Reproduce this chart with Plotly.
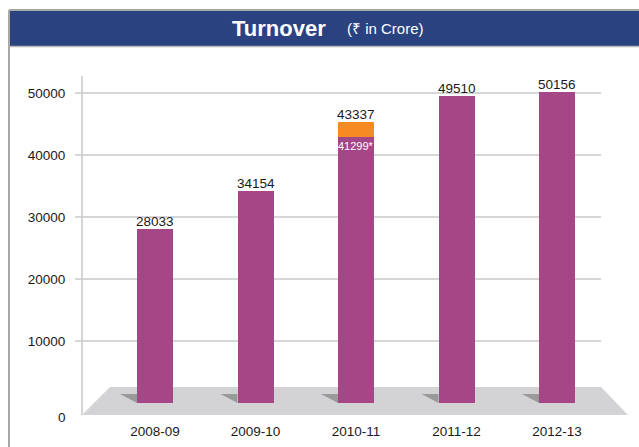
import plotly.graph_objects as go

# ---- data ----
categories = ["2008-09", "2009-10", "2010-11", "2011-12", "2012-13"]
bar_main = [28033, 34154, 42900, 49510, 50156]      # purple heights as drawn
bar_extra = [0, 0, 2400, 0, 0]                      # orange segment as drawn
top_labels = ["28033", "34154", "43337", "49510", "50156"]
inner_labels = ["", "", "41299*", "", ""]
ytick_vals = [10000, 20000, 30000, 40000, 50000]
ytick_text = ["10000", "20000", "30000", "40000", "50000"]
zero_label = "0"

# ---- geometry ----
FW, FH = 639, 447
L, R, T, B = 82, 628, 76, 415
W, H = R - L, B - T
def px(x): return (x - L) / W
def py(y): return (B - y) / H

k = 10000 / 62.0               # value per pixel
y0v = -(B - 403) * k
y1v = (403 - T) * k
xspan = W / 100.5
xr0 = (L - 155) / 100.5
xr = [xr0, xr0 + xspan]
bw = 36 / 100.5

PURPLE = "#A54686"
ORANGE = "#F68B24"
GRID = "#C9C9CB"
FONT = "Liberation Sans, Arial, sans-serif"

xs = list(range(len(categories)))
fig = go.Figure()
fig.add_bar(x=xs, y=bar_main, width=bw, marker=dict(color=PURPLE, line=dict(width=0)), hoverinfo="skip")
fig.add_bar(x=xs, y=bar_extra, width=bw, marker=dict(color=ORANGE, line=dict(width=0)), hoverinfo="skip")

shapes = []
# outer frame & title bar
shapes.append(dict(type="rect", xref="paper", yref="paper", x0=px(9), x1=px(641), y0=py(46), y1=py(10.5),
                   fillcolor="#2B4281", line=dict(width=0), layer="below"))
shapes.append(dict(type="line", xref="paper", yref="paper", x0=px(9), x1=px(641), y0=py(10), y1=py(10),
                   line=dict(color="#A8A8A8", width=2)))
shapes.append(dict(type="line", xref="paper", yref="paper", x0=px(9), x1=px(9), y0=py(10), y1=py(448),
                   line=dict(color="#A8A8A8", width=2)))
shapes.append(dict(type="line", xref="paper", yref="paper", x0=px(10), x1=px(641), y0=py(46.5), y1=py(46.5),
                   line=dict(color="#B8B8B8", width=1.5)))
# gridlines
for g in ytick_vals:
    shapes.append(dict(type="line", xref="paper", yref="y", x0=px(75), x1=px(601), y0=g, y1=g,
                       line=dict(color=GRID, width=1.5), layer="below"))
# vertical axis line
shapes.append(dict(type="line", xref="paper", yref="paper", x0=0, x1=0, y0=0, y1=1,
                   line=dict(color=GRID, width=1.5), layer="below"))
# floor
shapes.append(dict(type="path", xref="paper", yref="paper",
                   path=f"M {px(82)},{py(415)} L {px(110)},{py(387)} L {px(601)},{py(387)} L {px(628)},{py(415)} Z",
                   fillcolor="#D3D3D5", line=dict(width=0), layer="below"))
# bar shadows
dx = 17 / 100.5
dy = 9 * k
for i in xs:
    xl = i - bw / 2
    shapes.append(dict(type="path", xref="x", yref="y",
                       path=f"M {xl - dx},{dy} L {xl},{dy} L {xl},0 Z",
                       fillcolor="#9A9A9A", line=dict(width=0), layer="below"))

ann = []
for i, (m, e, t) in enumerate(zip(bar_main, bar_extra, top_labels)):
    ann.append(dict(x=i, y=m + e, xref="x", yref="y", text=t, showarrow=False, yanchor="bottom",
                    font=dict(family=FONT, size=13.5, color="#1A1A1A"), yshift=-2))
for i, (m, t) in enumerate(zip(bar_main, inner_labels)):
    if t:
        ann.append(dict(x=i, y=m, xref="x", yref="y", text=t, showarrow=False, yanchor="top",
                        font=dict(family=FONT, size=11, color="white"), yshift=-1))
# "0" label sits on the front edge of the 3-D floor
ann.append(dict(x=px(68), y=py(417), xref="paper", yref="paper", text=zero_label, showarrow=False,
                xanchor="right", yanchor="middle", font=dict(family=FONT, size=13.5, color="#1A1A1A")))
ann.append(dict(x=px(279), y=py(28), xref="paper", yref="paper", text="<b>Turnover</b>", showarrow=False,
                font=dict(family="Liberation Sans, Arial, sans-serif", size=22, color="white"),
                xanchor="center", yanchor="middle"))
ann.append(dict(x=px(385), y=py(29), xref="paper", yref="paper", text="(₹ in Crore)", showarrow=False,
                font=dict(family="Liberation Sans, Arial, sans-serif", size=15, color="white"),
                xanchor="center", yanchor="middle"))

fig.update_layout(
    width=FW, height=FH,
    margin=dict(l=L, r=FW - R, t=T, b=FH - B, pad=0, autoexpand=False),
    paper_bgcolor="white", plot_bgcolor="rgba(0,0,0,0)",
    barmode="stack", bargap=0, showlegend=False,
    shapes=shapes, annotations=ann,
    xaxis=dict(range=xr, tickvals=xs, ticktext=categories, showgrid=False, zeroline=False,
               showline=False, ticks="outside", ticklen=4, tickcolor="rgba(0,0,0,0)",
               tickfont=dict(family=FONT, size=13.5, color="#1A1A1A"), fixedrange=True, automargin=False),
    yaxis=dict(range=[y0v, y1v], tickvals=ytick_vals, ticktext=ytick_text, showgrid=False,
               zeroline=False, showline=False, ticks="outside", ticklen=13, tickcolor="rgba(0,0,0,0)",
               tickfont=dict(family=FONT, size=13.5, color="#1A1A1A"), fixedrange=True, automargin=False),
)
fig.write_html("out.html", config={"displayModeBar": False},
               post_script="document.body.style.margin='0';document.body.style.overflow='hidden';")
